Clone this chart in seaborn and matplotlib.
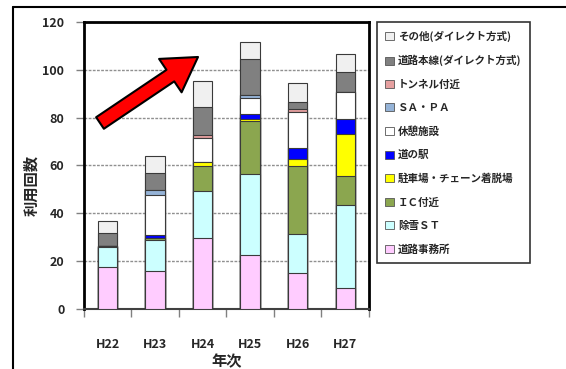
import matplotlib
matplotlib.use("Agg")
import matplotlib.pyplot as plt
import seaborn as sns
import pandas as pd
import numpy as np
from matplotlib.patches import Patch
from matplotlib.lines import Line2D

categories = ['H22', 'H23', 'H24', 'H25', 'H26', 'H27']
office = [17.7, 15.7, 29.7, 22.5, 14.9, 8.7]        # 道路事務所
snow_st = [8.0, 13.2, 19.8, 33.9, 16.6, 34.9]      # 除雪ＳＴ
ic_near = [0.0, 0.7, 10.1, 22.4, 28.4, 12.0]       # ＩＣ付近
parking = [0.7, 0.0, 1.9, 0.7, 2.8, 17.7]          # 駐車場・チェーン着脱場
michinoeki = [0.0, 1.2, 0.0, 2.1, 4.8, 6.0]        # 道の駅
rest = [0.0, 16.8, 10.1, 6.6, 14.9, 11.3]          # 休憩施設
sapa = [0.0, 2.1, 0.0, 1.4, 0.0, 0.0]              # ＳＡ・ＰＡ
tunnel = [0.0, 0.0, 1.0, 0.0, 1.3, 0.0]            # トンネル付近
mainline = [5.4, 7.2, 11.8, 15.0, 2.9, 8.7]        # 道路本線(ダイレクト方式)
other = [5.0, 7.1, 11.0, 6.9, 7.9, 7.3]            # その他(ダイレクト方式)

series_names = ['道路事務所', '除雪ＳＴ', 'ＩＣ付近', '駐車場・チェーン着脱場', '道の駅',
                '休憩施設', 'ＳＡ・ＰＡ', 'トンネル付近', '道路本線(ダイレクト方式)',
                'その他(ダイレクト方式)']
series_vals = [office, snow_st, ic_near, parking, michinoeki, rest, sapa, tunnel,
               mainline, other]
colors = ['#FFCCFF', '#CCFFFF', '#8BA64F', '#FFFF00', '#0000FF', '#FFFFFF',
          '#95B3D7', '#E6A0A0', '#808080', '#F0F0F0']

yticks = [0, 20, 40, 60, 80, 100, 120]

fam = ['Noto Sans CJK JP', 'DejaVu Sans']
sns.set_theme(style='white')
plt.rcParams['font.family'] = fam
plt.rcParams['font.weight'] = 'bold'

fig = plt.figure(figsize=(5.66, 3.69), dpi=100)
ax = fig.add_axes([0.148, 0.163, 0.504, 0.777])

df = pd.DataFrame({n: v for n, v in zip(series_names, series_vals)}, index=categories)
cum = df.cumsum(axis=1)

# draw from top layer down so each lower layer covers the part beneath
for name, col in reversed(list(zip(series_names, colors))):
    d = pd.DataFrame({'cat': categories, 'val': cum[name].values})
    sns.barplot(data=d, x='cat', y='val', color=col, saturation=1, width=0.41,
                edgecolor='#3a3a3a', linewidth=0.8, ax=ax, zorder=3)

ax.set_ylim(0, 120)
ax.set_xlim(-0.5, len(categories) - 0.5)
ax.set_yticks(yticks)
ax.set_yticklabels([str(t) for t in yticks], fontsize=9, fontweight='bold')
ax.yaxis.grid(True, linestyle=(0, (2, 1)), color='#909090', linewidth=1.0, zorder=0)
ax.set_axisbelow(True)
ax.set_xticks(np.arange(len(categories)))
ax.set_xticklabels(categories, fontsize=9, fontweight='bold')
ax.tick_params(axis='x', length=0, pad=21)
ax.tick_params(axis='y', length=6, width=1, color='#808080', direction='out', left=True, pad=8)
# category boundary ticks
ax.set_xticks(np.arange(len(categories) + 1) - 0.5, minor=True)
ax.tick_params(axis='x', which='minor', length=6, width=1, color='#808080', direction='out', bottom=True)

for s in ['left', 'top', 'right']:
    ax.spines[s].set_color('black')
    ax.spines[s].set_linewidth(2)
ax.spines['bottom'].set_color('#404040')
ax.spines['bottom'].set_linewidth(1.5)

ax.set_xlabel('年次', fontsize=11, fontweight='bold')
ax.xaxis.set_label_coords(0.5, -0.155)
ax.set_ylabel('利用回数', fontsize=11, fontweight='bold')
ax.yaxis.set_label_coords(-0.155, 0.43)

# arrow annotation
ax.annotate('', xy=(198, 369 - 57), xycoords='figure pixels',
            xytext=(100, 369 - 123), textcoords='figure pixels',
            arrowprops=dict(arrowstyle='simple,head_length=2.4,head_width=2.9,tail_width=1.0',
                            mutation_scale=10, facecolor='#FF0000', edgecolor='black',
                            lw=1.5, shrinkA=0, shrinkB=0))

# legend
handles = [Patch(facecolor=c, edgecolor='#555555', linewidth=0.6)
           for c in reversed(colors)]
labels = list(reversed(series_names))
leg = fig.legend(handles, labels, loc='upper left', bbox_to_anchor=(377 / 566, 1 - 22 / 369),
                 frameon=True, fancybox=False, handlelength=0.8,
                 handleheight=0.8, handletextpad=0.4, labelspacing=1.25,
                 borderpad=0.8, borderaxespad=0,
                 prop={'family': fam, 'weight': 'bold', 'size': 7.6})
leg.get_frame().set_edgecolor('black')
leg.get_frame().set_linewidth(1.2)

# outer frame lines
fig.add_artist(Line2D([13 / 566, 13 / 566], [0, 1 - 7 / 369], transform=fig.transFigure,
                      color='black', lw=1.5))
fig.add_artist(Line2D([13 / 566, 1], [1 - 7 / 369, 1 - 7 / 369], transform=fig.transFigure,
                      color='black', lw=1.5))

fig.savefig('out.png', dpi=100)
